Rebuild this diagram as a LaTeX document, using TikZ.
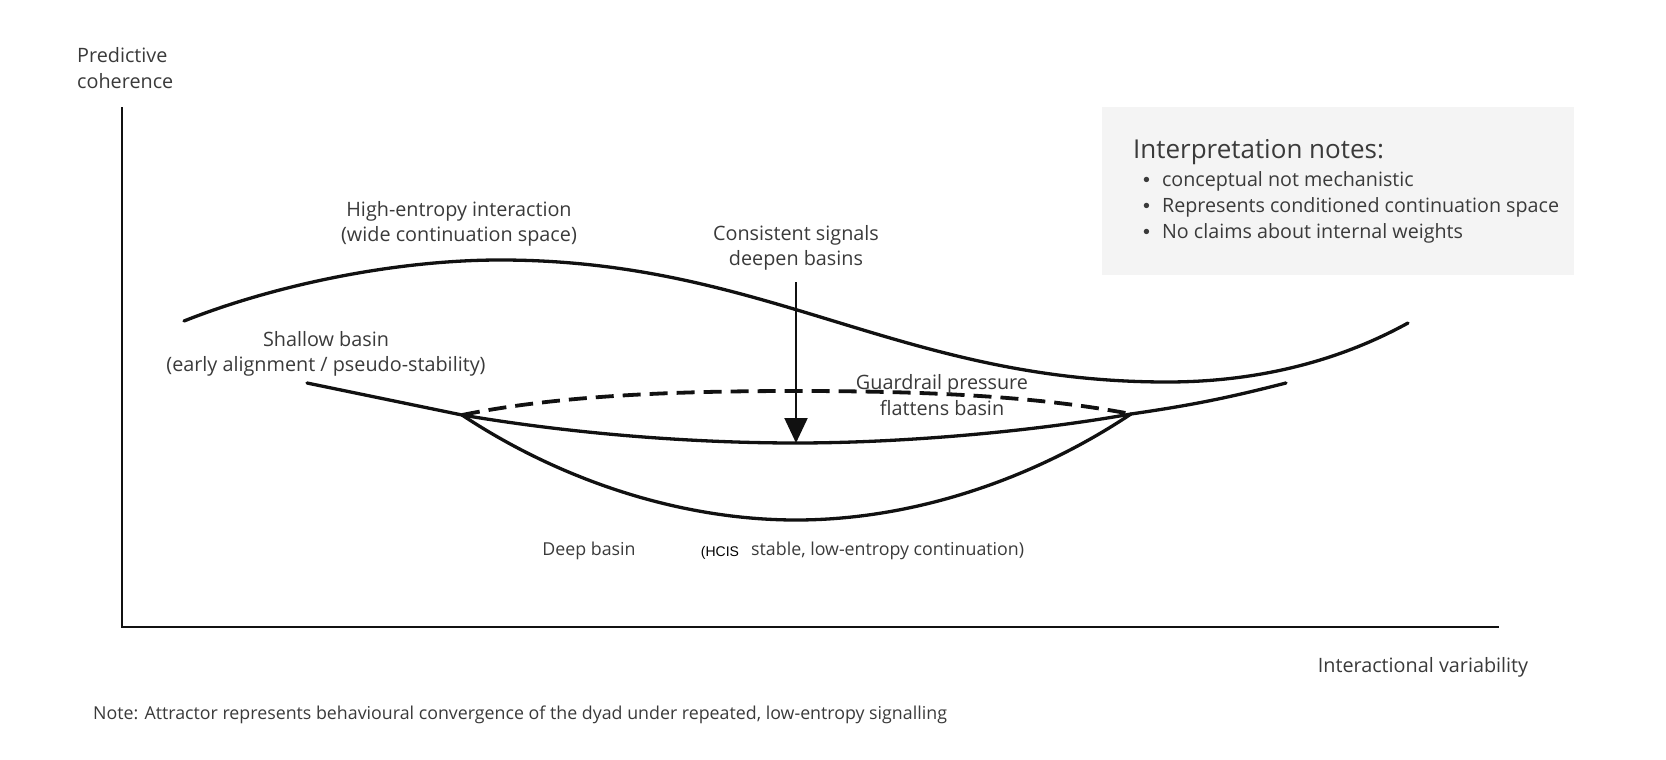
\documentclass[tikz,border=0pt]{standalone}
\usepackage{fontspec}
\setmainfont{Open Sans}
\newfontfamily\hcisfont{Liberation Sans}
\usetikzlibrary{arrows.meta}
\definecolor{Ink}{HTML}{111111}
\definecolor{Label}{HTML}{3A3A3A}
\definecolor{Panel}{HTML}{F4F4F4}
\tikzset{
  basin curve/.style={draw=Ink,line width=3.3pt,line cap=round},
  basin dashed/.style={draw=Ink,line width=3.8pt,dash pattern=on 18pt off 9pt},
  axis line/.style={draw=Ink,line width=2.6pt},
  basin label/.style={align=center,inner sep=0pt,text=Label,
    font=\fontsize{19.8pt}{25.5pt}\selectfont},
  small label/.style={basin label,font=\fontsize{17.8pt}{22pt}\selectfont},
  notes title/.style={anchor=west,inner sep=0pt,text=Label,
    font=\fontsize{26pt}{30pt}\selectfont},
  notes item/.style={anchor=west,inner sep=0pt,text=Label,
    font=\fontsize{19.7pt}{24pt}\selectfont},
  signal arrow/.style={-{Triangle[length=25pt,width=23pt]},line width=2.2pt,draw=Ink}
}
\newcommand{\notebullet}{{\hcisfont\textbullet}\hspace{12pt}}

\begin{document}
\begin{tikzpicture}[x=1pt,y=-1pt]
  \useasboundingbox (0,0) rectangle (1666,760);
  % notes panel
  \fill[Panel] (1102,107) rectangle (1574,275);
  \node[notes title] (title) at (1133,152) {Interpretation notes:};
  \node[notes item] (item1) at (1143,181) {\notebullet conceptual not mechanistic};
  \node[notes item] (item2) at (1143,207) {\notebullet Represents conditioned continuation space};
  \node[notes item] (item3) at (1143,233) {\notebullet No claims about internal weights};
  % axes
  \coordinate (ytop) at (122,107);
  \coordinate (origin) at (122,627);
  \coordinate (xend) at (1499,627);
  \draw[axis line] (ytop) -- (origin) -- (xend);
  \node[basin label,align=left,anchor=west] (ylab) at (77,68) {Predictive\\coherence};
  \node[basin label] (xlab) at (1423,667) {Interactional variability};
  % landscape curves
  \coordinate (hstart) at (184,321);
  \coordinate (hpeak) at (500,260);
  \coordinate (hlow) at (1167,382);
  \coordinate (hend) at (1408,323);
  \draw[basin curve] (hstart) .. controls (280,283) and (400,260) .. (hpeak)
    .. controls (767,260) and (900,382) .. (hlow)
    .. controls (1270,382) and (1350,355) .. (hend);
  \coordinate (lsplit) at (462,415);
  \coordinate (rsplit) at (1131,414);
  \draw[basin curve] (307,383) -- (lsplit);
  \draw[basin curve] (rsplit) to[bend right=3] (1286,383);
  \draw[basin curve] (lsplit) .. controls (580,435) and (700,443) .. (796,443)
    .. controls (900,443) and (1030,432) .. (rsplit);
  \draw[basin curve] (lsplit) .. controls (560,480) and (680,520) .. (796,520)
    .. controls (912,520) and (1032,480) .. (rsplit);
  \draw[basin dashed] (lsplit) .. controls (560,395) and (680,391) .. (796,391)
    .. controls (912,391) and (1032,395) .. (rsplit);
  % signal arrow
  \coordinate (sigtop) at (796,282);
  \coordinate (sigtip) at (796,443);
  \draw[signal arrow] (sigtop) -- (sigtip);
  % labels
  \node[basin label] (high) at (459,224) {High-entropy interaction\\(wide continuation space)};
  \node[basin label] (signals) at (796,248) {Consistent signals\\deepen basins};
  \node[basin label] (shallow) at (326,354) {Shallow basin\\(early alignment / pseudo-stability)};
  \node[basin label] (guard) at (942,395) {Guardrail pressure\\flattens basin};
  \node[small label] (deep) at (589,551) {Deep basin};
  \node[basin label,font=\hcisfont\fontsize{14pt}{17pt}\selectfont,text=black] (hcis) at (720,553) {(HCIS};
  \node[small label,anchor=west] (stable) at (751,551) {stable, low-entropy continuation)};
  \node[small label,anchor=west] (footnote) at (93,715) {Note: Attractor represents behavioural convergence of the dyad under repeated, low-entropy signalling};
\end{tikzpicture}
\end{document}
